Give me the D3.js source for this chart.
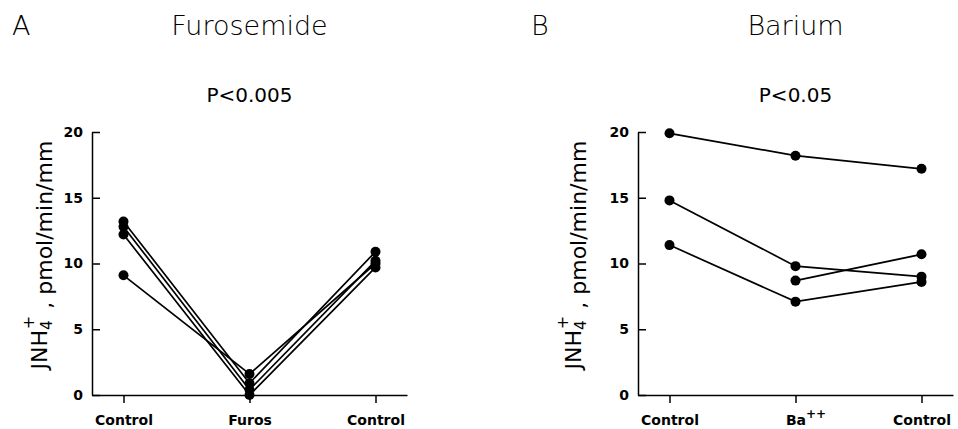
<!DOCTYPE html>
<html lang="en">
<head>
<meta charset="UTF-8">
<title>JNH4 furosemide / barium</title>
<script src="https://cdn.jsdelivr.net/npm/d3@7"></script>
<style>
    body { margin: 0; background: #fff; }
    svg { display: block; }
</style>
</head>
<body>
<div id="graphic"></div>
<script>
    // data
    var furosCats = ['Control', 'Furos', 'Control'];
    var furosValues = [
        [13.2, 0.9, 10.9],
        [12.8, 0.4, 10.2],
        [12.2, 0.0, 9.7],
        [9.1, 1.6, 10.0]
    ];
    var bariumCats = ['Control', 'Ba', 'Control'];
    var bariumValues = [
        [19.9, 18.2, 17.2],
        [14.8, 9.8, 9.0],
        [11.4, 7.1, 8.6],
        [null, 8.7, 10.7]
    ];
    var yTicks = [0, 5, 10, 15, 20];

    var width = 958, height = 429;

    var svg = d3.select('#graphic')
        .append('svg')
        .attr('width', width)
        .attr('height', height);

    var y = d3.scaleLinear().domain([0, 20]).range([395, 132]);

    function drawPanel(opt) {
        var g = svg.append('g');
        var x = d3.scalePoint()
            .domain([0, 1, 2])
            .range([opt.left, opt.left + 315])
            .padding(0.25);

        // panel letter, title, p value
        g.append('text')
            .attr('x', opt.letterX).attr('y', 35)
            .style('font', '300 27px "DejaVu Sans"')
            .text(opt.letter);
        g.append('text')
            .attr('x', x(1)).attr('y', 35)
            .attr('text-anchor', 'middle')
            .style('font', '200 27px "DejaVu Sans"')
            .text(opt.title);
        g.append('text')
            .attr('x', x(1)).attr('y', 102)
            .attr('text-anchor', 'middle')
            .style('font', '20px "DejaVu Sans"')
            .text(opt.p);

        // axes
        var yAxis = d3.axisLeft(y).tickValues(yTicks).tickSize(-8).tickSizeOuter(0).tickPadding(9);
        var ya = g.append('g').attr('transform', 'translate(' + opt.left + ',0)').call(yAxis);
        var xAxis = d3.axisBottom(x).tickSize(8).tickSizeOuter(0).tickPadding(12)
            .tickFormat(function(i) { return opt.cats[i]; });
        var xa = g.append('g').attr('transform', 'translate(0,' + y(0) + ')').call(xAxis);

        [ya, xa].forEach(function(a) {
            a.selectAll('path, line').attr('stroke', '#000').attr('stroke-width', 1.5);
            a.selectAll('text')
                .attr('fill', '#000')
                .style('font', 'bold 14px "DejaVu Sans"');
        });

        // superscript on Ba++
        xa.selectAll('text').each(function(i) {
            if (opt.cats[i] !== 'Ba') return;
            var t = d3.select(this).text(null).attr('text-anchor', 'start');
            var main = t.append('tspan').text('Ba');
            t.append('tspan').attr('dy', '-0.55em').style('font-size', '12px').text('++');
            t.attr('x', -main.node().getComputedTextLength() / 2);
        });

        // y label
        var lab = g.append('text')
            .attr('transform', 'translate(' + opt.labelX + ',255) rotate(-90)')
            .attr('text-anchor', 'middle')
            .style('font', '22px "DejaVu Sans"');
        lab.append('tspan').text('JNH');
        lab.append('tspan').attr('dy', '0.3em').style('font-size', '15px').text('4');
        lab.append('tspan').attr('dy', '-1.1em').attr('dx', '-0.55em').style('font-size', '16px').text('+');
        lab.append('tspan').attr('dy', '0.8em').text(' ,  pmol/min/mm');

        // lines and dots
        var line = d3.line()
            .defined(function(d) { return d != null; })
            .x(function(d, i) { return x(i); })
            .y(function(d) { return y(d); });

        g.selectAll('.subject')
            .data(opt.values)
            .join('path')
            .attr('class', 'subject')
            .attr('d', line)
            .attr('fill', 'none')
            .attr('stroke', '#000')
            .attr('stroke-width', 1.7);

        var pts = [];
        opt.values.forEach(function(row) {
            row.forEach(function(v, i) { if (v != null) pts.push({i: i, v: v}); });
        });
        g.selectAll('.dot')
            .data(pts)
            .join('circle')
            .attr('class', 'dot')
            .attr('cx', function(d) { return x(d.i); })
            .attr('cy', function(d) { return y(d.v); })
            .attr('r', 5)
            .attr('fill', '#000');
    }

    drawPanel({
        left: 92, letter: 'A', letterX: 12, labelX: 47,
        title: 'Furosemide', p: 'P<0.005',
        cats: furosCats, values: furosValues
    });
    drawPanel({
        left: 638, letter: 'B', letterX: 531, labelX: 581,
        title: 'Barium', p: 'P<0.05',
        cats: bariumCats, values: bariumValues
    });
</script>
</body>
</html>
